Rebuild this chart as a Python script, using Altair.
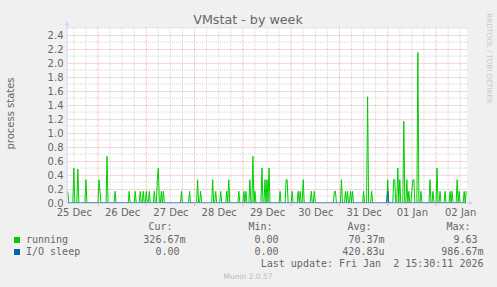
import json
import altair as alt
import pandas as pd

# ---------------- data (hours counted from 25 Dec 00:00) ----------------
day_labels = ["25 Dec", "26 Dec", "27 Dec", "28 Dec", "29 Dec",
              "30 Dec", "31 Dec", "01 Jan", "02 Jan"]
label_hours = [12, 36, 60, 84, 108, 132, 156, 180, 204]      # noon of each day
midnight_hours = [24, 48, 72, 96, 120, 144, 168, 192]
x_domain = [8.6, 207.4]

running_spike_hours = [
    9.0, 12.0, 14.0, 18.0, 24.5, 25.0, 28.5, 32.5, 39.5, 42.5, 45.0, 46.5,
    48.0, 49.5, 52.0, 53.5, 54.0, 55.5, 56.5, 65.5, 69.5, 73.5, 75.0, 81.0,
    82.5, 85.0, 88.0, 89.0, 94.0, 96.5, 97.5, 99.5, 101.0, 102.0, 105.5,
    107.0, 108.0, 109.0, 114.5, 117.5, 118.0, 120.5, 123.5, 124.5, 126.0,
    130.0, 131.5, 141.5, 142.0, 145.0, 147.0, 148.0, 149.5, 150.5, 156.0,
    158.0, 160.0, 168.0, 171.0, 171.5, 173.0, 174.0, 176.0, 177.5, 178.5,
    180.0, 180.5, 181.0, 183.0, 184.5, 189.0, 190.5, 192.5, 194.0, 196.5,
    199.0, 200.0, 202.5, 203.5, 206.0, 207.0]
running_spike_values = [
    0.167, 0.5, 0.483, 0.333, 0.333, 0.167, 0.667, 0.167, 0.167, 0.167, 0.167, 0.167,
    0.167, 0.167, 0.167, 0.333, 0.5, 0.167, 0.167, 0.167, 0.167, 0.333, 0.167, 0.333,
    0.167, 0.167, 0.167, 0.333, 0.167, 0.167, 0.167, 0.333, 0.667, 0.167, 0.5,
    0.333, 0.333, 0.5, 0.167, 0.333, 0.333, 0.167, 0.167, 0.167, 0.333,
    0.167, 0.167, 0.167, 0.167, 0.333, 0.167, 0.167, 0.167, 0.167, 0.167,
    1.517, 0.167, 0.333, 0.333, 0.333, 0.5, 0.333, 1.167, 0.333, 0.167,
    0.167, 0.333, 0.333, 2.15, 0.167, 0.333, 0.167, 0.5, 0.167, 0.167,
    0.167, 0.167, 0.333, 0.167, 0.167, 0.167]
io_spike_hours = [168.0]
io_spike_values = [0.167]

series_start, series_end, series_step = 9.0, 207.0, 0.5

y_major = [0.0, 0.2, 0.4, 0.6, 0.8, 1.0, 1.2, 1.4, 1.6, 1.8, 2.0, 2.2, 2.4]
y_minor = [0.1, 0.3, 0.5, 0.7, 0.9, 1.1, 1.3, 1.5, 1.7, 1.9, 2.1, 2.3, 2.5]
six_hour_lines = [h for h in range(12, 207, 6) if h % 24 != 0]

legend_cur = ["326.67m", "0.00"]
legend_min = ["0.00", "0.00"]
legend_avg = ["70.37m", "420.83u"]
legend_max = ["9.63", "986.67m"]

# ---------------- build tables ----------------
n = int(round((series_end - series_start) / series_step)) + 1
hours = [series_start + i * series_step for i in range(n)]
run_map = dict(zip(running_spike_hours, running_spike_values))
io_map = dict(zip(io_spike_hours, io_spike_values))
run_df = pd.DataFrame({"h": hours, "v": [run_map.get(h, 0.0) for h in hours]})
io_df = pd.DataFrame({"h": hours, "v": [io_map.get(h, 0.0) for h in hours]})

FONT = "DejaVu Sans"
MONO = "DejaVu Sans Mono"
TXT = "#666666"
GRID = "#D2D2D2"
MGRID = "#EBB2B2"
AXIS = "#CFD6F8"

label_expr = json.dumps(day_labels) + "[floor(datum.value / 24)]"

X = alt.X("h:Q",
          scale=alt.Scale(domain=x_domain, nice=False, zero=False),
          axis=alt.Axis(values=label_hours, labelExpr=label_expr, title=None,
                        grid=False, ticks=False, domain=False, labelFont=FONT,
                        labelFontSize=10, labelColor=TXT, labelPadding=4))
Y = alt.Y("v:Q",
          scale=alt.Scale(domain=[0, 2.5], nice=False, zero=True),
          axis=alt.Axis(values=y_major, format=".1f", title=None, grid=True,
                        gridColor=MGRID, gridDash=[1, 1], gridWidth=1,
                        ticks=False, domain=False, labelFont=FONT,
                        labelFontSize=10, labelColor=TXT, labelPadding=4))

minor_v = alt.Chart(pd.DataFrame({"h": six_hour_lines})).mark_rule(
    color=GRID, strokeDash=[1, 1], strokeWidth=1).encode(x=X)
minor_h = alt.Chart(pd.DataFrame({"v": y_minor})).mark_rule(
    color=GRID, strokeDash=[1, 1], strokeWidth=1).encode(y=Y)
major_v = alt.Chart(pd.DataFrame({"h": midnight_hours})).mark_rule(
    color=MGRID, strokeDash=[1, 1], strokeWidth=1).encode(x=X)
major_tick = alt.Chart(pd.DataFrame({"h": midnight_hours})).mark_rule(
    color=MGRID, strokeWidth=1).encode(x=X, y=alt.value(175), y2=alt.value(178))

one = pd.DataFrame({"k": [0]})
left_axis = alt.Chart(one).mark_rule(color=AXIS, strokeWidth=1).encode(
    x=alt.value(0), y=alt.value(-3), y2=alt.value(175))
bottom_axis = alt.Chart(one).mark_rule(color=AXIS, strokeWidth=1).encode(
    x=alt.value(0), x2=alt.value(402), y=alt.value(175))
arrow_up = alt.Chart(one).mark_point(shape="triangle-up", filled=True, size=22,
                                     color=AXIS, opacity=1).encode(
    x=alt.value(0), y=alt.value(-4.5))
arrow_right = alt.Chart(one).mark_point(shape="triangle-right", filled=True, size=22,
                                        color=AXIS, opacity=1).encode(
    x=alt.value(404), y=alt.value(175))

running_line = alt.Chart(run_df).mark_line(
    color="#00CC00", strokeWidth=1, clip=True, interpolate="linear").encode(x=X, y=Y)
io_line = alt.Chart(io_df).mark_line(
    color="#0066B3", strokeWidth=1, clip=True, interpolate="linear").encode(x=X, y=Y)


def txt(s, x, y, align="left", size=10, color=TXT, font=MONO, angle=None,
        baseline="alphabetic"):
    kw = dict(align=align, baseline=baseline, fontSize=size, color=color, font=font)
    if angle is not None:
        kw["angle"] = angle
    return alt.Chart(pd.DataFrame({"t": [s]})).mark_text(**kw).encode(
        text="t:N", x=alt.value(x), y=alt.value(y))


texts = [
    txt("VMstat - by week", 181, -4, align="center", size=12.7, font=FONT),
    txt("process states", -56, 85.5, align="center", size=10, font=FONT,
        angle=270, baseline="middle"),
    txt("RRDTOOL / TOBI OETIKER", 422, 30.5, align="center", size=7,
        color="#C8C8C8", font=FONT, angle=90, baseline="middle"),
    txt("Cur:", 81.5, 202), txt("Min:", 181.5, 202),
    txt("Avg:", 280.5, 202), txt("Max:", 379.5, 202),
    txt("running", -41, 215), txt("I/O sleep", -41, 227),
    txt(legend_cur[0], 118.5, 215, align="right"),
    txt(legend_cur[1], 112.5, 227, align="right"),
    txt(legend_min[0], 211.5, 215, align="right"),
    txt(legend_min[1], 211.5, 227, align="right"),
    txt(legend_avg[0], 317.5, 215, align="right"),
    txt(legend_avg[1], 317.5, 227, align="right"),
    txt(legend_max[0], 410.5, 215, align="right"),
    txt(legend_max[1], 416.5, 227, align="right"),
    txt("Last update: Fri Jan\u00a0 2 15:30:11 2026", 416.5, 239, align="right"),
    txt("Munin 2.0.57", 181, 251, align="center", size=7.5, color="#BBBBBB", font=FONT),
]

sq_run = alt.Chart(one).mark_rect(color="#00CC00").encode(
    x=alt.value(-53), x2=alt.value(-47), y=alt.value(209), y2=alt.value(215))
sq_io = alt.Chart(one).mark_rect(color="#0066B3").encode(
    x=alt.value(-53), x2=alt.value(-47), y=alt.value(221), y2=alt.value(227))

chart = alt.layer(
    minor_v, minor_h, major_v, major_tick, running_line, bottom_axis, io_line,
    left_axis, arrow_up, arrow_right, sq_run, sq_io, *texts
).properties(
    width=400, height=175,
    padding={"left": 67, "top": 28, "right": 30, "bottom": 84},
    autosize=alt.AutoSizeParams(type="none"),
    background="#F0F0F0",
).configure_view(fill="#FFFFFF", stroke=None)

chart.save("out.html", embed_options={"renderer": "svg", "actions": False})
